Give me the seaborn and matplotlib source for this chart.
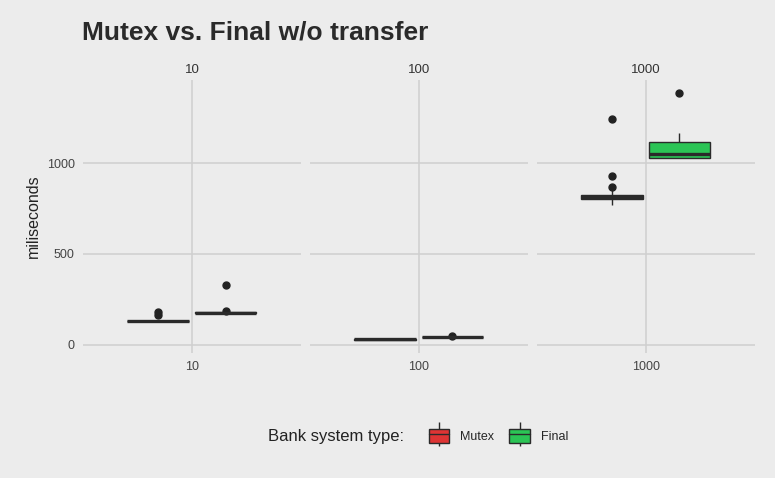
import matplotlib
matplotlib.use("Agg")
import matplotlib.pyplot as plt
from matplotlib.patches import Patch
from matplotlib.lines import Line2D
import seaborn as sns
import pandas as pd

# data (raw samples per group)
threads = ["10", "100", "1000"]
types = ["Mutex", "Final"]
mutex_10 = [125, 126, 127, 128, 128, 128, 129, 129, 130, 131, 165, 180]
final_10 = [170, 171, 172, 173, 174, 174, 175, 176, 177, 178, 185, 328]
mutex_100 = [26, 27, 28, 28, 29, 29, 30, 30, 31, 32]
final_100 = [39, 40, 41, 42, 42, 43, 43, 44, 45, 48]
mutex_1000 = [771, 790, 798, 800, 803, 806, 810, 813, 815, 818, 821, 824, 826, 857, 870, 930, 1244]
final_1000 = [1027, 1028, 1029, 1030, 1031, 1035, 1040, 1045, 1049, 1060, 1080, 1100, 1115, 1130, 1150, 1165, 1386]
colors = {"Mutex": "#de3434", "Final": "#2bc455"}

groups = {
    ("10", "Mutex"): mutex_10, ("10", "Final"): final_10,
    ("100", "Mutex"): mutex_100, ("100", "Final"): final_100,
    ("1000", "Mutex"): mutex_1000, ("1000", "Final"): final_1000,
}
rows = []
for (t, k), vals in groups.items():
    for v in vals:
        rows.append({"threads": t, "type": k, "ms": v})
df = pd.DataFrame(rows)

bg = "#ececec"
sns.set_theme(style="whitegrid", rc={
    "axes.facecolor": bg, "figure.facecolor": bg,
    "grid.color": "#cfcfcf", "grid.linewidth": 1.1,
    "axes.edgecolor": bg,
})
plt.rcParams["font.family"] = ["Liberation Sans", "DejaVu Sans"]

fig, axes = plt.subplots(1, 3, figsize=(7.75, 4.78), dpi=100, sharey=True)
fig.subplots_adjust(left=0.107, right=0.974, top=0.833, bottom=0.262, wspace=0.041)

for ax, t in zip(axes, threads):
    sub = df[df["threads"] == t]
    sns.boxplot(data=sub, x="threads", y="ms", hue="type", hue_order=types,
                palette=colors, saturation=1, width=0.74, gap=0.08,
                linecolor="#2a2a2a", linewidth=1, showcaps=False, legend=False,
                ax=ax, medianprops=dict(linewidth=2.4),
                flierprops=dict(marker="o", markersize=5, markerfacecolor="#222222",
                                markeredgecolor="#222222"))
    ax.set_xlim(-0.6, 0.6)
    ax.set_ylim(-45, 1460)
    ax.set_yticks([0, 500, 1000])
    ax.set_xlabel("")
    ax.set_ylabel("")
    ax.set_title(t, fontsize=9.5, color="#333333", pad=5)
    ax.tick_params(length=0, labelsize=9, labelcolor="#444444", pad=6)
    ax.grid(True, axis="both")
    for s in ax.spines.values():
        s.set_visible(False)

axes[0].set_ylabel("miliseconds", fontsize=11.5, color="#222222")

fig.text(0.106, 1 - 32 / 478, "Mutex vs. Final w/o transfer", fontsize=19,
         fontweight="bold", color="#2a2a2a", va="center", ha="left")

fig.text(268 / 775, 1 - 436 / 478, "Bank system type:", fontsize=12,
         color="#222222", va="center", ha="left")
handles = [(Line2D([0], [0], color="#2a2a2a", linestyle="none", marker="|",
                   markersize=17, markeredgewidth=1),
            Patch(facecolor=colors[k], edgecolor="#2a2a2a", linewidth=1),
            Line2D([0], [0], color="#2a2a2a", linewidth=1)) for k in types]
fig.legend(handles, types, loc="center left",
           bbox_to_anchor=(418 / 775, 1 - 436 / 478), ncol=2, frameon=False,
           fontsize=9, handlelength=1.6, handleheight=1.4, handletextpad=0.9,
           columnspacing=1.2, numpoints=1)

fig.savefig("out.png", dpi=100, facecolor=bg)
